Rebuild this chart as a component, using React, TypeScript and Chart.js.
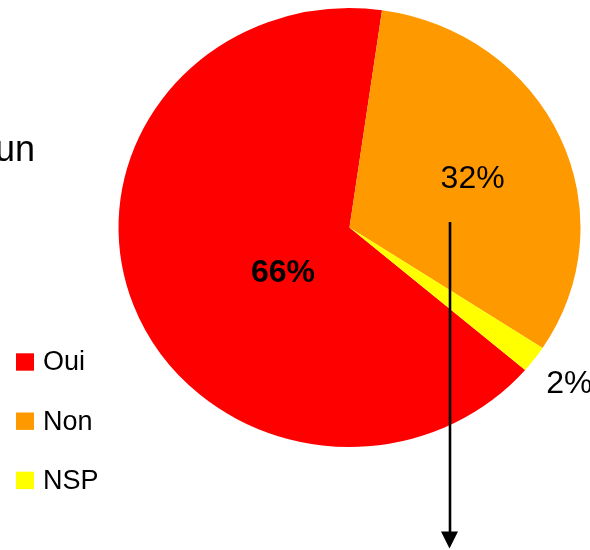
import React, { useEffect, useRef } from "react";
import { Chart, registerables } from "chart.js";

Chart.register(...registerables);

const categories = ["Oui", "Non", "NSP"];
const values = [66, 32, 2];
const valueLabels = ["66%", "32%", "2%"];
const colors = ["#FF0000", "#FF9900", "#FFFF00"];
const sideText = "un";

const FONT = "'Liberation Sans', Arial, sans-serif";
// label placement (style): radius factor and angle shift in degrees, bold flag
const labelStyle = [
  { r: 0.355, shift: -15, bold: true },
  { r: 0.576, shift: 2, bold: false },
  { r: 1.19, shift: 0, bold: false },
];
const Y_SCALE = 0.95;
const Y_SHIFT = -3.5;

const ellipsePlugin = {
  id: "ellipse",
  beforeDatasetsDraw(chart: any) {
    const ctx = chart.ctx;
    const a = chart.chartArea;
    const cx = (a.left + a.right) / 2;
    const cy = (a.top + a.bottom) / 2;
    ctx.save();
    ctx.translate(cx, cy + Y_SHIFT);
    ctx.scale(1, Y_SCALE);
    ctx.translate(-cx, -cy);
  },
  afterDatasetsDraw(chart: any) {
    chart.ctx.restore();
  },
};

const decorPlugin = {
  id: "decor",
  afterDraw(chart: any) {
    const ctx = chart.ctx;
    const meta = chart.getDatasetMeta(0);
    const a = chart.chartArea;
    const cx = (a.left + a.right) / 2;
    const cy = (a.top + a.bottom) / 2 + Y_SHIFT;
    ctx.save();
    ctx.fillStyle = "#000";
    ctx.textAlign = "center";
    ctx.textBaseline = "middle";
    meta.data.forEach((arc: any, i: number) => {
      const st = labelStyle[i];
      const mid = (arc.startAngle + arc.endAngle) / 2 + (st.shift * Math.PI) / 180;
      const r = arc.outerRadius * st.r;
      const x = cx + Math.cos(mid) * r;
      const y = cy + Math.sin(mid) * r * Y_SCALE;
      ctx.font = (st.bold ? "bold " : "") + "32px " + FONT;
      ctx.fillText(valueLabels[i], x, y);
    });

    // legend
    const labels = chart.data.labels as string[];
    const bg = chart.data.datasets[0].backgroundColor as string[];
    ctx.textAlign = "left";
    ctx.font = "27px " + FONT;
    labels.forEach((lab, i) => {
      const yc = 362 + i * 59.2;
      ctx.fillStyle = bg[i];
      ctx.fillRect(16, yc - 8.7, 18, 17.4);
      ctx.fillStyle = "#000";
      ctx.fillText(lab, 43, yc + 1);
    });

    // side text
    ctx.textAlign = "right";
    ctx.font = "36px " + FONT;
    ctx.fillText(sideText, 35, 151);

    // arrow
    ctx.strokeStyle = "#000";
    ctx.lineWidth = 2.6;
    ctx.beginPath();
    ctx.moveTo(450, 222);
    ctx.lineTo(450, 534);
    ctx.stroke();
    ctx.beginPath();
    ctx.moveTo(441, 531.5);
    ctx.lineTo(458, 531.5);
    ctx.lineTo(449.5, 548.5);
    ctx.closePath();
    ctx.fill();
    ctx.restore();
  },
};

export default function App() {
  const ref = useRef<HTMLCanvasElement>(null);
  useEffect(() => {
    const chart = new Chart(ref.current as HTMLCanvasElement, {
      type: "pie",
      data: {
        labels: categories,
        datasets: [
          {
            data: values,
            backgroundColor: colors,
            borderWidth: 0,
            hoverOffset: 0,
            clip: false as any,
          } as any,
        ],
      },
      options: {
        responsive: false,
        animation: false,
        rotation: 130.5,
        layout: { padding: { left: 118.5, right: 9.5, top: 0, bottom: 88 } },
        plugins: {
          legend: { display: false },
          tooltip: { enabled: false },
          title: { display: false },
        },
        events: [],
      },
      plugins: [ellipsePlugin, decorPlugin],
    });
    return () => chart.destroy();
  }, []);
  return (
    <div style={{ position: "absolute", left: 0, top: 0, width: 590, height: 550, background: "#fff" }}>
      <canvas ref={ref} width={590} height={550} style={{ display: "block" }} />
    </div>
  );
}
